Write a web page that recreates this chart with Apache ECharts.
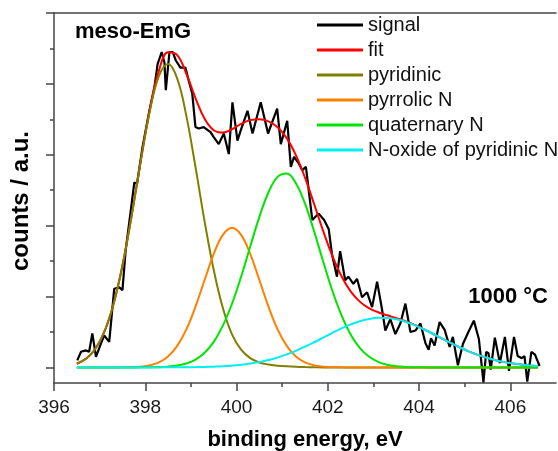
<!DOCTYPE html>
<html>
<head>
<meta charset="utf-8">
<title>meso-EmG N 1s</title>
<script src="https://cdn.jsdelivr.net/npm/echarts@6/dist/echarts.min.js"></script>
<style>
  html, body { margin: 0; padding: 0; background: #fff; }
  #chart { width: 558px; height: 451px; }
</style>
</head>
<body>
<div id="chart"></div>
<script>
// N 1s spectrum of meso-EmG (1000 °C): measured signal, fit envelope and four components.

// Measured signal (binding energy in eV, counts in a.u.)
const signalEnergy = [
  396.51, 396.59, 396.70, 396.77, 396.84, 396.92, 397.03, 397.10, 397.21, 397.32,
  397.43, 397.50, 397.57, 397.68, 397.76, 397.82, 397.94, 398.09, 398.20, 398.27,
  398.36, 398.42, 398.45, 398.53, 398.60, 398.67, 398.77, 398.88, 398.95, 399.03,
  399.10, 399.17, 399.28, 399.43, 399.50, 399.61, 399.72, 399.83, 399.91, 400.02,
  400.09, 400.24, 400.35, 400.53, 400.69, 400.89, 400.97, 401.11, 401.19, 401.26,
  401.37, 401.44, 401.52, 401.66, 401.80, 401.92, 402.02, 402.09, 402.20, 402.27,
  402.38, 402.45, 402.56, 402.64, 402.75, 402.86, 402.97, 403.08, 403.19, 403.26,
  403.37, 403.48, 403.59, 403.70, 403.81, 403.92, 404.03, 404.14, 404.21, 404.26,
  404.34, 404.45, 404.56, 404.67, 404.74, 404.85, 404.96, 405.08, 405.20, 405.31,
  405.36, 405.41, 405.47, 405.52, 405.57, 405.66, 405.77, 405.88, 405.97, 406.08,
  406.16, 406.25, 406.31, 406.37, 406.46, 406.54, 406.64
];
const signalCounts = [
  0.10, 0.22, 0.24, 0.22, 0.48, 0.15, 0.34, 0.45, 0.36, 1.11,
  1.13, 1.09, 1.65, 2.20, 2.61, 2.59, 3.11, 3.62, 3.95, 4.28,
  4.45, 4.30, 3.91, 4.45, 4.45, 4.33, 4.23, 4.23, 4.05, 3.86,
  3.39, 3.37, 3.39, 3.32, 3.25, 3.15, 3.30, 3.01, 3.74, 3.20,
  3.34, 3.62, 3.30, 3.74, 3.30, 3.65, 3.15, 3.48, 2.83, 2.97,
  2.87, 2.78, 2.83, 2.08, 2.17, 2.08, 1.95, 1.60, 1.28, 1.64,
  1.23, 1.28, 1.18, 1.25, 0.99, 1.06, 0.85, 1.21, 0.81, 0.52,
  0.68, 0.47, 0.62, 0.90, 0.50, 0.52, 0.62, 0.34, 0.25, 0.41,
  0.31, 0.64, 0.53, 0.29, 0.43, 0.03, 0.33, 0.50, 0.66, 0.40,
  0.10, -0.21, 0.22, 0.20, -0.03, 0.42, 0.06, 0.43, -0.05, 0.43,
  0.16, 0.13, 0.16, -0.20, 0.22, 0.18, 0.02
];

// Energy grid shared by the fit envelope and the components
const modelEnergy = [
  396.5, 396.7, 396.9, 397.1, 397.3, 397.5, 397.7, 397.9, 398.1, 398.3,
  398.5, 398.7, 398.9, 399.1, 399.3, 399.5, 399.7, 399.9, 400.1, 400.3,
  400.5, 400.7, 400.9, 401.1, 401.3, 401.5, 401.7, 401.9, 402.1, 402.3,
  402.5, 402.7, 402.9, 403.1, 403.3, 403.5, 403.7, 403.9, 404.1, 404.3,
  404.5, 404.7, 404.9, 405.1, 405.3, 405.5, 405.7, 405.9, 406.1, 406.3,
  406.5, 406.6
];
const fitCounts = [
  0.052, 0.121, 0.256, 0.497, 0.884, 1.437, 2.140, 2.915, 3.644, 4.187,
  4.446, 4.405, 4.143, 3.800, 3.508, 3.346, 3.313, 3.360, 3.437, 3.489,
  3.502, 3.472, 3.389, 3.235, 2.995, 2.677, 2.305, 1.922, 1.573, 1.286,
  1.072, 0.928, 0.836, 0.778, 0.735, 0.695, 0.651, 0.599, 0.539, 0.475,
  0.408, 0.342, 0.280, 0.223, 0.174, 0.132, 0.098, 0.071, 0.050, 0.034,
  0.023, 0.019
];
const pyridinicCounts = [
  0.052, 0.121, 0.256, 0.497, 0.884, 1.436, 2.136, 2.903, 3.613, 4.111,
  4.280, 4.075, 3.549, 2.828, 2.061, 1.374, 0.838, 0.467, 0.250, 0.130,
  0.070, 0.040, 0.025, 0.015, 0.008, 0.004, 0.002, 0, 0, 0,
  0, 0, 0, 0, 0, 0, 0, 0, 0, 0,
  0, 0, 0, 0, 0, 0, 0, 0, 0, 0,
  0, 0
];
const pyrrolicCounts = [
  0, 0, 0, 0, 0, 0.001, 0.004, 0.011, 0.029, 0.071,
  0.154, 0.303, 0.536, 0.857, 1.233, 1.600, 1.870, 1.970, 1.870, 1.600,
  1.233, 0.857, 0.536, 0.303, 0.154, 0.071, 0.029, 0.011, 0.004, 0.001,
  0, 0, 0, 0, 0, 0, 0, 0, 0, 0,
  0, 0, 0, 0, 0, 0, 0, 0, 0, 0,
  0, 0
];
const quaternaryCounts = [
  0, 0, 0, 0, 0, 0, 0, 0.001, 0.002, 0.005,
  0.011, 0.026, 0.056, 0.111, 0.207, 0.361, 0.589, 0.898, 1.280, 1.705,
  2.123, 2.471, 2.688, 2.734, 2.599, 2.310, 1.919, 1.490, 1.081, 0.734,
  0.465, 0.276, 0.153, 0.079, 0.038, 0.017, 0.007, 0.003, 0.001, 0,
  0, 0, 0, 0, 0, 0, 0, 0, 0, 0,
  0, 0
];
const nOxideCounts = [
  0, 0, 0, 0, 0, 0, 0, 0, 0, 0,
  0.001, 0.001, 0.002, 0.004, 0.007, 0.011, 0.016, 0.025, 0.037, 0.054,
  0.076, 0.104, 0.140, 0.183, 0.234, 0.292, 0.355, 0.421, 0.488, 0.551,
  0.607, 0.652, 0.683, 0.699, 0.697, 0.678, 0.644, 0.596, 0.538, 0.475,
  0.408, 0.342, 0.280, 0.223, 0.174, 0.132, 0.098, 0.071, 0.050, 0.034,
  0.023, 0.019
];

// Axis ticks
const xMajorTicks = [396, 398, 400, 402, 404, 406];
const xMinorTicks = [397, 399, 401, 403, 405];
const yMajorTicks = [0, 1, 2, 3, 4, 5];
const yMinorTicks = [0.5, 1.5, 2.5, 3.5, 4.5];

const seriesNames = ['signal', 'fit', 'pyridinic', 'pyrrolic N', 'quaternary N', 'N-oxide of pyridinic N'];
const seriesColors = ['#000000', '#ff0000', '#808000', '#ff8000', '#00e600', '#00f0f0'];

const FONT = '"Liberation Sans", Arial, Helvetica, sans-serif';
const AXIS_COLOR = '#454545';

function pairs(xs, ys) {
  return xs.map((x, i) => [x, ys[i]]);
}

const modelSets = [fitCounts, pyridinicCounts, pyrrolicCounts, quaternaryCounts, nOxideCounts];

const series = [{
  name: seriesNames[0],
  type: 'line',
  data: pairs(signalEnergy, signalCounts),
  symbol: 'none',
  lineStyle: { color: seriesColors[0], width: 2.2 },
  itemStyle: { color: seriesColors[0] },
  z: 2
}].concat(modelSets.map((ys, k) => ({
  name: seriesNames[k + 1],
  type: 'line',
  data: pairs(modelEnergy, ys),
  symbol: 'none',
  smooth: 0.4,
  lineStyle: { color: seriesColors[k + 1], width: 2 },
  itemStyle: { color: seriesColors[k + 1] },
  z: 3 + k
})));

const axisLineStyle = { color: AXIS_COLOR, width: 1.5 };

const option = {
  animation: false,
  backgroundColor: '#ffffff',
  textStyle: { fontFamily: FONT },
  grid: { left: 54, right: 2, top: 13, bottom: 68, containLabel: false, outerBoundsMode: 'none' },
  xAxis: [
    {
      type: 'value', min: 396, max: 407, position: 'bottom',
      axisLine: { show: true, onZero: false, lineStyle: axisLineStyle },
      axisTick: { show: true, customValues: xMajorTicks, length: 8, lineStyle: axisLineStyle },
      axisLabel: { show: true, customValues: xMajorTicks, fontSize: 19, color: '#1a1a1a', margin: 15, fontFamily: FONT },
      splitLine: { show: false },
      name: 'binding energy, eV', nameLocation: 'middle', nameGap: 46,
      nameTextStyle: { fontSize: 22, fontWeight: 'bold', color: '#000', fontFamily: FONT }
    },
    {
      type: 'value', min: 396, max: 407, position: 'bottom',
      axisLine: { show: false, onZero: false },
      axisTick: { show: true, customValues: xMinorTicks, length: 4, lineStyle: axisLineStyle },
      axisLabel: { show: false },
      splitLine: { show: false }
    },
    {
      type: 'value', min: 396, max: 407, position: 'top',
      axisLine: { show: true, onZero: false, lineStyle: axisLineStyle },
      axisTick: { show: false },
      axisLabel: { show: false },
      splitLine: { show: false }
    }
  ],
  yAxis: [
    {
      type: 'value', min: -0.22, max: 5, position: 'left',
      axisLine: { show: true, onZero: false, lineStyle: axisLineStyle },
      axisTick: { show: true, customValues: yMajorTicks, length: 8, lineStyle: axisLineStyle },
      axisLabel: { show: false },
      splitLine: { show: false }
    },
    {
      type: 'value', min: -0.22, max: 5, position: 'left',
      axisLine: { show: false, onZero: false },
      axisTick: { show: true, customValues: yMinorTicks, length: 4, lineStyle: axisLineStyle },
      axisLabel: { show: false },
      splitLine: { show: false }
    }
  ],
  legend: {
    data: seriesNames,
    orient: 'vertical',
    left: 317, top: 15, padding: 0,
    icon: 'rect',
    itemWidth: 46, itemHeight: 3, itemGap: 5,
    textStyle: { fontSize: 20, color: '#111', fontFamily: FONT },
    selectedMode: false
  },
  graphic: [
    {
      type: 'text', left: 75, top: 21,
      style: { text: 'meso-EmG', font: 'bold 22px ' + FONT, fill: '#000' }
    },
    {
      type: 'text', right: 10, top: 286,
      style: { text: '1000 °C', font: 'bold 22px ' + FONT, fill: '#000' }
    },
    {
      type: 'text', x: 21, y: 201, rotation: Math.PI / 2,
      style: {
        text: 'counts / a.u.', font: 'bold 24px ' + FONT, fill: '#000',
        align: 'center', verticalAlign: 'middle'
      }
    }
  ],
  series: series
};

const chart = echarts.init(document.getElementById('chart'), null, { renderer: 'canvas' });
chart.setOption(option);
</script>
</body>
</html>
